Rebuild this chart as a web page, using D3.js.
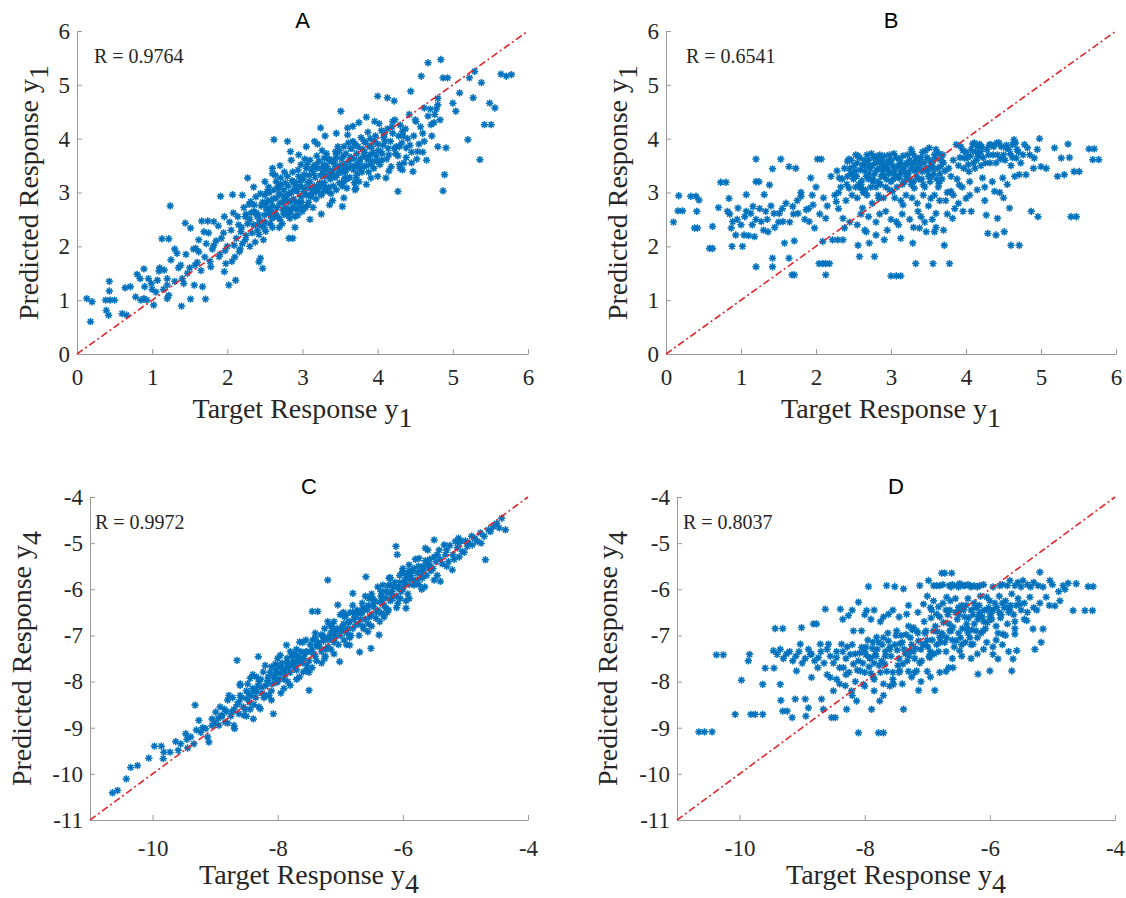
<!DOCTYPE html>
<html>

<head>
    <meta charset="utf-8" />
    <title>Target vs Predicted Response</title>
    <script src="https://d3js.org/d3.v7.min.js"></script>
    <style>
        body { margin: 0; background: #ffffff; }
        .tick text { font-family: "Liberation Serif", "DejaVu Serif", serif; fill: #262626; }
        .axis path, .axis line { stroke: #9a9a9a; }
    </style>
</head>

<body>
    <script type="text/javascript">
        // panel letters, correlation labels, axis names
        var panelTitles = ['A', 'B', 'C', 'D'];
        var rLabels = ['R = 0.9764', 'R = 0.6541', 'R = 0.9972', 'R = 0.8037'];
        var labelSub = ['1', '1', '4', '4'];

        // tick values
        var ticksY1 = [0, 1, 2, 3, 4, 5, 6];
        var ticksY4x = [-10, -8, -6, -4];
        var ticksY4y = [-11, -10, -9, -8, -7, -6, -5, -4];

        // [target, predicted] pairs
        var pointsA = [
            [0.13,1.03],[0.2,0.97],[0.18,0.6],[0.38,1.0],[0.44,1.0],[0.5,1.0],[0.43,1.35],[0.43,1.17],[0.39,0.81],[0.42,0.72],
            [0.6,0.75],[0.66,0.72],[0.64,1.23],[0.71,1.25],[0.8,1.48],[0.84,1.4],[0.78,1.06],[0.89,1.03],[0.93,1.0],[0.89,1.58],
            [1.02,0.91],[0.99,1.31],[1.07,1.37],[1.09,1.54],[1.16,1.56],[1.2,1.03],[1.22,1.09],[1.2,1.28],[1.13,2.14],[1.22,2.14],
            [1.24,2.75],[1.3,1.95],[1.33,1.87],[1.38,1.65],[1.39,0.89],[1.47,1.5],[1.42,1.31],[1.51,1.02],[1.56,1.28],[1.44,2.43],
            [1.51,2.34],[1.58,1.96],[1.62,1.9],[1.69,2.27],[1.66,2.47],[1.74,2.47],[1.82,2.46],[1.71,1.02],[1.67,1.25],[1.78,1.62],
            [1.82,2.02],[1.91,2.93],[1.89,1.81],[1.96,2.55],[1.96,1.53],[1.98,1.68],[2.02,1.28],[2.07,2.96],[2.11,1.37],[2.09,2.02],
            [2.16,1.9],[2.18,2.27],[2.27,3.27],[2.24,2.55],[2.31,2.83],[2.36,2.77],[2.42,1.71],[2.47,1.59],[2.44,1.78],[2.4,2.4],
            [2.49,2.58],[2.56,2.71],[2.62,3.98],[2.8,3.95],[2.84,3.76],[2.6,3.45],[2.67,3.08],[2.71,3.27],[2.76,2.89],[2.82,2.15],
            [2.87,2.15],[2.8,2.65],[2.89,3.2],[2.93,3.02],[2.98,3.52],[3.02,3.33],[3.07,2.77],[3.11,3.08],[3.16,3.95],[3.18,3.52],
            [3.24,4.2],[3.29,3.64],[3.31,3.08],[3.36,2.77],[3.38,3.39],[3.44,3.76],[3.51,4.51],[3.53,2.74],[3.56,3.27],[3.6,4.07],
            [3.64,3.64],[3.67,4.23],[3.71,3.08],[3.76,3.45],[3.82,3.95],[3.87,3.64],[3.91,3.27],[3.96,4.32],[4.0,4.79],[4.04,3.76],
            [4.11,3.27],[4.13,4.76],[4.2,4.32],[4.22,4.7],[4.27,3.02],[4.29,3.52],[4.33,4.14],[4.38,3.83],[4.44,4.88],[4.47,3.39],
            [4.51,4.32],[4.53,3.76],[4.58,5.16],[4.62,4.57],[4.67,5.41],[4.71,4.26],[4.76,4.45],[4.8,4.63],[4.84,5.47],[4.87,5.13],
            [4.89,3.33],[4.87,3.03],[4.91,3.83],[4.93,5.13],[5.0,4.66],[5.09,4.85],[5.04,4.51],[5.2,3.98],[5.22,5.13],[5.29,5.25],
            [5.27,4.76],[5.38,5.04],[5.36,3.61],[5.42,4.26],[5.51,4.26],[5.49,4.66],[5.56,4.57],[5.64,5.2],[5.71,5.16],[5.78,5.19],
            [2.3,2.5],[2.35,2.65],[2.4,2.3],[2.45,2.75],[2.5,2.45],[2.5,2.95],[2.55,2.6],[2.55,3.1],[2.6,2.75],[2.6,2.35],
            [2.65,2.9],[2.65,3.2],[2.7,2.5],[2.7,2.8],[2.75,3.05],[2.75,2.6],[2.8,3.3],[2.8,2.85],[2.85,2.7],[2.85,3.0],
            [2.9,3.15],[2.9,2.55],[2.95,3.3],[2.95,2.8],[3.0,3.1],[3.0,2.65],[3.05,3.45],[3.05,2.95],[3.1,3.2],[3.1,3.6],
            [3.15,3.0],[3.15,3.35],[3.2,3.1],[3.25,3.45],[3.25,2.95],[3.3,3.3],[3.35,3.6],[3.35,3.1],[3.4,3.4],[3.45,3.7],
            [3.45,3.05],[3.5,3.5],[3.55,3.85],[3.55,3.2],[3.6,3.45],[3.65,3.65],[3.7,3.9],[3.7,3.5],[3.75,3.2],[3.8,3.8],
            [3.85,3.5],[3.9,4.0],[3.9,3.7],[3.95,3.45],[4.0,3.9],[4.05,4.15],[4.05,3.6],[4.1,3.95],[4.15,3.7],[4.2,4.1],
            [4.25,3.85],[4.3,4.25],[4.35,3.55],[4.4,4.0],[4.45,3.75],[4.5,4.35],[4.55,3.9],[4.6,4.1],[4.65,3.6],[4.7,4.55],
            [4.75,4.3],[4.8,4.75],[4.8,3.85],[2.0,2.0],[2.05,2.3],[2.1,1.8],[2.15,2.4],[2.2,2.05],[2.25,2.6],[2.25,2.2],
            [2.3,2.0],[2.35,2.4],[2.4,2.55],[1.95,2.25],[1.9,1.85],[1.85,2.1],[1.8,1.95],[1.75,2.25],[1.7,1.8],[1.65,1.55],
            [1.6,1.7],[1.55,1.95],[1.5,1.6],[1.45,1.85],[1.4,1.4],[1.35,1.6],[1.3,1.35],[1.25,1.75],[1.2,1.4],[1.15,1.2],
            [1.1,1.6],[1.05,1.15],[1.0,1.2],[0.95,1.4],[0.9,1.25],[0.85,1.0],[2.2,2.95],[2.35,3.1],[2.5,3.2],[2.6,3.35],
            [2.7,3.5],[2.85,3.6],[2.95,3.7],[3.05,3.85],[3.2,3.9],[3.3,4.05],[3.45,4.1],[3.6,4.2],[3.75,4.3],[3.85,4.4],
            [2.9,2.35],[3.1,2.5],[3.25,2.6],[3.4,2.85],[3.55,2.9],[3.7,3.05],[3.85,3.15],[4.0,3.3],[4.15,3.4],[4.3,3.45],
            [4.45,3.55],[4.6,3.75],
            [2.32,2.62],[2.38,2.92],[2.43,2.48],[2.47,2.82],[2.52,2.68],[2.53,3.02],[2.57,2.42],[2.58,2.85],[2.62,3.05],[2.63,2.55],
            [2.66,2.72],[2.68,3.12],[2.72,2.95],[2.73,2.42],[2.77,3.18],[2.78,2.72],[2.82,2.98],[2.83,2.52],[2.87,3.38],[2.88,2.88],
            [2.92,3.05],[2.93,2.68],[2.97,3.22],[2.98,2.92],[3.02,3.02],[3.03,3.62],[3.07,3.18],[3.08,2.82],[3.12,3.42],[3.13,3.05],
            [3.17,3.28],[3.18,2.88],[3.22,3.58],[3.23,3.18],[3.27,3.35],[3.28,3.02],[3.32,3.72],[3.33,3.48],[3.37,3.25],[3.38,2.98],
            [3.42,3.55],[3.43,3.28],[3.47,3.85],[3.48,3.42],[3.52,3.62],[3.53,3.12],[3.57,3.38],[3.58,3.72],[3.62,3.58],[3.63,3.28],
            [3.67,3.95],[3.68,3.42],[3.72,3.72],[3.73,3.35],[3.77,3.62],[3.78,4.02],[3.82,3.48],[3.83,3.75],[3.87,4.12],[3.88,3.38],
            [3.92,3.85],[3.93,3.58],[3.97,4.05],[3.98,3.68],[4.02,4.28],[4.03,3.52],[4.07,3.88],[4.08,4.02],[4.12,3.62],[4.13,4.18],
            [4.17,3.95],[4.18,3.48],[4.22,3.82],[4.23,4.35],[4.27,3.68],[4.28,4.05],[4.32,3.92],[4.33,3.42],[4.37,4.18],[4.38,3.65],
            [4.42,4.45],[4.43,3.88],[4.48,4.05],[4.52,3.62],[4.57,4.22],[4.62,3.95],[4.67,4.42],[4.72,4.05],[4.78,4.55],[4.83,4.35],
            [2.12,2.15],[2.14,2.55],[2.17,1.95],[2.19,2.35],[2.22,2.72],[2.24,2.12],[2.27,2.42],[2.29,2.78],[2.33,2.25],[2.37,2.08],
            [2.39,2.62],[2.42,2.22],[2.46,2.38],[2.48,2.12],[2.51,2.28],[2.54,2.85],[2.59,2.52],[2.64,2.62],[2.69,2.35],[2.74,2.82],
            [2.79,2.58],[2.84,2.82],[2.89,2.72],[2.94,2.58],[2.99,2.82],[3.04,2.72],[3.09,2.95],[3.14,2.72],[3.19,3.45],[3.24,3.12],
            [3.29,3.52],[3.34,3.32],[3.39,3.58],[3.44,3.48],[3.49,3.18],[3.54,3.45],[3.59,3.08],[3.64,3.82],[3.69,3.18],[3.74,3.52],
            [1.88,2.38],[1.92,2.15],[1.97,1.92],[2.03,2.45],[2.06,1.72],[2.08,2.62],[1.72,2.05],[1.77,1.72],[1.62,2.12],[1.57,1.65],
            [2.41,2.58],[2.44,2.98],[2.49,2.35],[2.51,2.78],[2.56,3.0],[2.58,2.65],[2.61,2.88],[2.64,3.32],[2.67,2.55],[2.69,2.98],
            [2.71,3.15],[2.74,2.68],[2.76,3.38],[2.79,2.95],[2.81,3.12],[2.84,2.62],[2.86,3.22],[2.89,3.05],[2.91,2.82],[2.94,3.42],
            [2.96,3.12],[2.99,2.72],[3.01,3.25],[3.04,3.08],[3.06,3.52],[3.09,3.32],[3.11,2.92],[3.14,3.48],[3.16,3.12],[3.19,3.68],
            [3.21,3.02],[3.24,3.32],[3.26,3.78],[3.29,3.18],[3.31,3.42],[3.34,3.02],[3.36,3.62],[3.39,3.32],[3.41,3.12],[3.44,3.62],
            [3.46,3.32],[3.49,3.78],[3.51,3.38],[3.54,3.68],[3.56,3.52],[3.59,3.25],[3.61,3.92],[3.64,3.48],[3.66,3.82],[3.69,3.62],
            [3.71,3.28],[3.74,3.85],[3.76,3.55],[3.79,3.38],[3.81,3.68],[3.84,3.92],[3.86,3.62],[3.89,3.85],[3.91,3.52],[3.94,3.75],
            [3.96,3.95],[3.99,3.58],[4.01,3.78],[4.06,3.72],[4.09,4.08],[4.14,3.82],[4.19,4.22],[4.24,3.72],[4.29,3.85],[4.34,4.05]
        ];

        var pointsB = [
            [0.1,2.45],[0.17,2.94],[0.16,2.66],[0.22,2.66],[0.33,2.93],[0.4,2.93],[0.44,2.86],[0.41,2.65],[0.42,2.34],[0.38,2.34],
            [0.58,1.96],[0.62,1.96],[0.62,2.37],[0.7,2.72],[0.73,3.19],[0.8,3.19],[0.82,2.65],[0.84,2.89],[0.87,2.34],[0.89,2.46],
            [0.88,2.0],[0.96,2.71],[0.93,2.21],[1.02,2.0],[1.04,2.21],[1.07,2.96],[1.07,2.65],[1.13,2.61],[1.16,2.74],[1.18,2.18],
            [1.2,3.62],[1.2,3.2],[1.2,1.62],[1.24,3.2],[1.27,2.46],[1.31,2.96],[1.33,2.65],[1.36,2.27],[1.38,3.14],[1.42,3.44],
            [1.42,1.78],[1.42,1.62],[1.44,2.61],[1.51,2.61],[1.53,3.62],[1.56,2.46],[1.58,2.06],[1.64,3.48],[1.64,1.78],[1.68,1.47],
            [1.71,1.47],[1.73,3.45],[1.71,2.1],[1.69,2.74],[1.76,2.61],[1.8,2.93],[1.87,2.68],[1.91,2.46],[1.93,3.27],[1.96,2.77],
            [1.98,2.34],[2.02,3.62],[2.07,3.62],[2.04,1.68],[2.09,1.68],[2.13,1.47],[2.13,1.68],[2.18,1.68],[2.09,2.09],[2.13,2.52],
            [2.22,2.12],[2.27,2.83],[2.29,2.12],[2.31,3.27],[2.36,2.12],[2.36,2.52],[2.38,2.34],[2.42,3.58],[2.44,3.08],[2.49,3.33],
            [2.53,3.7],[2.56,2.02],[2.58,1.81],[2.6,3.08],[2.62,2.71],[2.64,3.52],[2.67,2.27],[2.71,2.06],[2.76,3.2],[2.78,1.81],
            [2.8,2.21],[2.8,3.67],[2.84,2.89],[2.89,3.39],[2.91,2.12],[2.93,2.65],[2.96,3.58],[3.0,1.45],[3.07,1.45],[3.13,1.45],
            [3.02,3.02],[3.07,2.46],[3.11,3.27],[3.13,2.15],[3.16,2.77],[3.2,3.52],[3.27,3.8],[3.29,2.06],[3.31,3.08],[3.33,1.68],
            [3.36,2.65],[3.38,2.34],[3.42,3.39],[3.47,2.27],[3.51,3.83],[3.53,2.89],[3.56,1.68],[3.58,2.27],[3.6,2.61],[3.64,3.17],
            [3.69,3.7],[3.71,2.02],[3.78,1.68],[3.8,3.02],[3.82,2.52],[3.87,3.89],[3.91,3.14],[3.96,2.65],[3.98,3.64],[4.0,2.89],
            [4.04,3.39],[4.07,2.65],[4.11,3.92],[4.16,3.67],[4.2,3.76],[4.22,3.27],[4.27,2.58],[4.29,2.24],[4.33,3.89],[4.38,3.02],
            [4.4,2.21],[4.42,2.52],[4.44,3.92],[4.49,3.27],[4.51,2.27],[4.53,3.83],[4.58,2.71],[4.62,3.89],[4.64,3.98],[4.6,2.02],
            [4.71,2.02],[4.67,3.64],[4.71,3.33],[4.78,3.89],[4.82,3.83],[4.8,3.33],[4.87,2.65],[4.91,3.64],[4.98,4.0],[4.96,2.55],
            [5.0,3.48],[5.07,3.45],[5.18,3.83],[5.22,3.3],[5.27,3.64],[5.31,3.33],[5.36,3.9],[5.38,3.65],[5.4,2.55],[5.47,2.55],
            [5.44,3.39],[5.51,3.39],[5.64,3.81],[5.71,3.81],[5.69,3.61],[5.77,3.61],
            [2.45,3.45],[2.5,3.25],[2.55,3.55],[2.6,3.15],[2.65,3.4],[2.7,3.6],[2.7,3.25],[2.75,3.5],[2.8,3.1],[2.85,3.45],
            [2.85,3.7],[2.9,3.3],[2.95,3.5],[3.0,3.2],[3.0,3.6],[3.05,3.35],[3.1,3.5],[3.15,3.15],[3.2,3.3],[3.25,3.6],
            [3.3,3.2],[3.35,3.45],[3.4,3.65],[3.45,3.1],[3.5,3.3],[3.55,3.55],[3.6,3.8],[3.65,3.35],[3.7,3.55],[3.75,3.0],
            [2.3,3.0],[2.35,3.25],[2.4,2.85],[2.55,2.9],[2.6,2.6],[2.75,2.8],[2.9,2.9],[3.05,2.9],[3.2,2.95],[3.35,2.8],
            [3.5,2.75],[3.65,2.85],[3.8,3.3],[3.9,3.5],[4.0,3.75],[4.1,3.55],[4.15,3.85],[4.2,3.5],[4.3,3.7],[4.4,3.55],
            [4.5,3.7],[4.6,3.5],[2.2,3.3],[2.1,2.9],[2.0,3.1],[1.9,2.7],[1.8,3.0],[1.7,2.6],[1.6,2.8],[1.5,2.45],
            [1.4,2.75],[1.3,2.3],[1.2,2.5],[1.1,2.2],[1.0,2.4],[2.3,2.7],[2.45,2.45],[2.65,2.3],[2.8,2.45],[2.95,2.3],
            [3.1,2.4],[3.25,2.5],[3.45,2.45],[3.6,2.35],[3.75,2.6],[3.9,2.8],[4.05,2.95],[4.25,3.1],[4.45,3.0],[4.65,3.3],
            [2.42,3.3],[2.47,3.6],[2.52,3.4],[2.57,3.15],[2.58,3.65],[2.62,3.5],[2.63,3.0],[2.67,3.3],[2.68,3.7],[2.72,3.45],
            [2.73,3.1],[2.77,3.65],[2.78,3.35],[2.82,3.55],[2.83,3.2],[2.87,3.3],[2.88,3.6],[2.92,3.45],[2.93,3.1],[2.97,3.35],
            [2.98,3.7],[3.02,3.5],[3.03,3.25],[3.07,3.65],[3.08,3.1],[3.12,3.35],[3.13,3.55],[3.17,3.45],[3.18,3.2],[3.22,3.7],
            [3.23,3.35],[3.27,3.15],[3.28,3.5],[3.32,3.4],[3.33,3.65],[3.37,3.25],[3.38,3.55],[3.42,3.75],[3.43,3.15],[3.47,3.45],
            [3.48,3.65],[3.52,3.2],[3.53,3.5],[3.57,3.35],[3.58,3.7],[3.62,3.45],[3.63,3.1],[3.67,3.6],[3.68,3.25],[3.72,3.4],
            [2.38,3.45],[2.33,3.1],[2.28,3.4],[2.25,2.95],[2.48,2.95],[2.53,3.1],[2.68,2.95],[2.83,2.95],[2.98,3.05],[3.13,2.85],
            [3.28,2.9],[3.43,2.95],[3.58,2.95],[3.73,2.85],[3.77,3.45],[3.83,3.6],[3.88,3.25],[3.93,3.85],[3.97,3.45],[4.02,3.65],
            [4.07,3.8],[4.12,3.45],[4.13,3.75],[4.18,3.9],[4.23,3.65],[4.28,3.8],[4.32,3.55],[4.37,3.85],[4.42,3.7],[4.47,3.85],
            [4.52,3.6],[4.57,3.8],[4.62,3.65],[4.68,3.8],[4.73,3.55],[4.85,3.7],[4.9,3.45],[4.95,3.8],[3.83,2.95],[3.95,3.1],
            [4.05,3.2],[4.15,3.05],[4.25,2.85],[4.35,3.2],[4.5,2.9],[4.55,3.15],[2.15,2.75],[2.05,2.6],[1.95,2.95],[1.85,2.5],
            [1.75,2.85],[1.65,2.45],[1.55,2.7],[1.45,2.35],[1.35,2.5],[1.25,2.7],[1.15,2.4],[1.05,2.55],[0.95,2.5],[0.85,2.6],
            [2.55,2.4],[2.7,2.55],[2.85,2.6],[3.0,2.5],[3.15,2.6],[3.3,2.35],[3.4,2.55],[3.55,2.5],[3.7,2.3],[3.85,2.7],
            [2.41,3.15],[2.44,3.62],[2.46,3.35],[2.51,3.5],[2.54,3.3],[2.56,3.68],[2.59,3.42],[2.61,3.22],[2.64,3.6],[2.66,3.05],
            [2.69,3.5],[2.71,3.35],[2.74,3.72],[2.76,3.25],[2.79,3.55],[2.81,3.42],[2.84,3.62],[2.86,3.15],[2.89,3.52],[2.91,3.68],
            [2.94,3.25],[2.96,3.42],[2.99,3.58],[3.01,3.38],[3.04,3.72],[3.06,3.45],[3.09,3.28],[3.11,3.62],[3.14,3.42],[3.16,3.68],
            [3.19,3.38],[3.21,3.55],[3.24,3.25],[3.26,3.42],[3.29,3.72],[3.31,3.55],[3.34,3.3],[3.36,3.62],[3.39,3.45],[3.41,3.25],
            [3.44,3.55],[3.46,3.78],[3.49,3.4],[3.51,3.6],[3.54,3.3],[3.56,3.45],[3.59,3.62],[3.61,3.25],[3.64,3.72],[3.66,3.48],
            [3.92,3.65],[3.96,3.78],[4.03,3.52],[4.06,3.68],[4.09,3.9],[4.14,3.6],[4.17,3.72],[4.21,3.85],[4.26,3.55],[4.31,3.88],
            [4.36,3.7],[4.41,3.92],[4.46,3.62],[4.54,3.88],[4.59,3.72],[4.66,3.92],[4.7,3.75],[4.76,3.7]
        ];

        var pointsC = [
            [-10.64,-10.41],[-10.56,-10.36],[-10.42,-10.11],[-10.35,-9.86],[-10.24,-9.82],[-10.06,-9.66],[-9.97,-9.4],[-9.86,-9.4],[-9.82,-9.53],[-9.83,-9.67],
            [-9.72,-9.53],[-9.63,-9.3],[-9.59,-9.49],[-9.44,-9.44],[-9.47,-9.13],[-9.39,-9.2],[-9.32,-8.51],[-9.34,-9.35],[-9.26,-8.84],[-9.23,-9.1],
            [-9.15,-9.02],[-9.1,-9.31],[-9.05,-8.81],[-8.99,-8.66],[-8.94,-8.95],[-8.89,-8.73],[-8.84,-8.88],[-8.78,-8.3],[-8.73,-8.66],[-8.69,-9.02],
            [-8.65,-7.54],[-8.62,-8.44],[-8.6,-8.08],[-8.54,-8.73],[-8.49,-8.37],[-8.44,-7.93],[-8.39,-8.81],[-8.34,-8.22],[-8.31,-7.46],[-8.28,-8.59],
            [-8.23,-7.79],[-8.18,-8.3],[-8.1,-7.68],[-8.07,-8.7],[-8.02,-8.01],[-7.96,-7.43],[-7.91,-7.79],[-7.86,-7.21],[-7.8,-8.08],[-7.75,-7.64],
            [-7.7,-7.43],[-7.65,-7.14],[-7.59,-7.79],[-7.54,-7.36],[-7.5,-8.19],[-7.45,-6.48],[-7.36,-6.48],[-7.38,-7.21],[-7.31,-6.99],[-7.25,-7.5],
            [-7.2,-5.8],[-7.17,-6.77],[-7.09,-7.07],[-7.04,-6.34],[-7.01,-7.57],[-6.96,-6.88],[-6.91,-6.56],[-6.85,-7.21],[-6.8,-6.09],[-6.75,-6.77],
            [-6.69,-7.36],[-6.64,-6.41],[-6.59,-5.73],[-6.56,-6.92],[-6.51,-7.28],[-6.48,-6.2],[-6.43,-6.63],[-6.38,-6.99],[-6.32,-5.91],[-6.27,-6.41],
            [-6.22,-5.76],[-6.17,-6.2],[-6.11,-5.07],[-6.09,-5.25],[-6.06,-5.98],[-6.01,-5.62],[-5.95,-6.41],[-5.9,-5.47],[-5.82,-5.91],[-5.74,-5.33],
            [-5.69,-5.76],[-5.64,-5.11],[-5.58,-5.54],[-5.5,-4.93],[-5.45,-5.25],[-5.4,-5.83],[-5.34,-5.04],[-5.27,-5.4],[-5.21,-5.58],[-5.16,-4.96],
            [-5.11,-4.89],[-5.05,-5.18],[-4.97,-5.07],[-4.89,-5.04],[-4.81,-4.96],[-4.76,-4.78],[-4.68,-5.36],[-4.63,-4.71],[-4.55,-4.64],[-4.5,-4.57],
            [-4.42,-4.46],[-4.36,-4.71],[-4.46,-4.67],
            [-9.0,-8.9],[-8.9,-8.75],[-8.8,-8.9],[-8.7,-8.6],[-8.6,-8.3],[-8.55,-8.55],[-8.5,-8.2],[-8.45,-8.45],[-8.4,-8.15],[-8.35,-8.35],
            [-8.3,-8.0],[-8.25,-8.25],[-8.2,-8.1],[-8.15,-7.9],[-8.1,-8.2],[-8.05,-7.85],[-8.0,-8.0],[-7.95,-7.7],[-7.9,-7.95],[-7.85,-7.6],
            [-7.8,-7.8],[-7.75,-7.55],[-7.7,-7.75],[-7.65,-7.5],[-7.6,-7.6],[-7.55,-7.35],[-7.5,-7.55],[-7.45,-7.3],[-7.4,-7.45],[-7.35,-7.15],
            [-7.3,-7.35],[-7.25,-7.05],[-7.2,-7.25],[-7.15,-6.95],[-7.1,-7.15],[-7.05,-6.85],[-7.0,-7.0],[-6.95,-6.75],[-6.9,-6.95],[-6.85,-6.7],
            [-6.8,-6.85],[-6.75,-6.55],[-6.7,-6.75],[-6.65,-6.5],[-6.6,-6.65],[-6.55,-6.35],[-6.5,-6.55],[-6.45,-6.25],[-6.4,-6.45],[-6.35,-6.15],
            [-6.3,-6.35],[-6.25,-6.05],[-6.2,-6.25],[-6.15,-5.95],[-6.1,-6.15],[-6.05,-5.85],[-6.0,-6.0],[-5.95,-5.75],[-5.9,-5.9],[-5.85,-5.6],
            [-5.8,-5.8],[-5.75,-5.5],[-5.7,-5.7],[-5.6,-5.45],[-5.55,-5.6],[-5.5,-5.3],[-5.4,-5.35],[-5.3,-5.15],[-5.2,-5.25],[-5.1,-5.0],
            [-5.0,-4.95],[-4.9,-4.85],
            [-8.8,-8.4],[-8.6,-8.05],[-8.4,-7.85],[-8.2,-7.65],[-8.0,-7.5],[-7.8,-7.35],[-7.6,-7.15],[-7.4,-6.95],[-7.2,-6.7],[-7.0,-6.55],
            [-6.8,-6.35],[-6.6,-6.15],[-6.4,-5.95],[-6.2,-5.75],[-6.0,-5.55],[-5.8,-5.35],[-5.6,-5.15],
            [-8.7,-8.95],[-8.5,-8.75],[-8.3,-8.55],[-8.1,-8.4],[-7.9,-8.15],[-7.7,-7.95],[-7.5,-7.8],[-7.3,-7.6],[-7.1,-7.4],[-6.9,-7.2],
            [-6.7,-7.0],[-6.5,-6.8],[-6.3,-6.6],[-6.1,-6.4],[-5.9,-6.2],[-5.7,-6.0],[-5.5,-5.8],[-5.3,-5.5],[-5.1,-5.3],
            [-8.95,-8.8],[-8.85,-8.6],[-8.75,-8.75],[-8.65,-8.5],[-8.58,-8.35],[-8.52,-8.6],[-8.48,-8.05],[-8.42,-8.3],[-8.38,-8.5],[-8.32,-8.1],
            [-8.27,-7.95],[-8.22,-8.35],[-8.17,-8.05],[-8.12,-7.8],[-8.08,-8.05],[-8.03,-7.75],[-7.98,-7.95],[-7.93,-7.6],[-7.88,-7.85],[-7.83,-7.7],
            [-7.78,-7.45],[-7.73,-7.7],[-7.68,-7.6],[-7.63,-7.35],[-7.58,-7.5],[-7.53,-7.65],[-7.48,-7.2],[-7.43,-7.4],[-7.38,-7.55],[-7.33,-7.25],
            [-7.28,-7.0],[-7.23,-7.3],[-7.18,-7.1],[-7.13,-6.85],[-7.08,-7.0],[-7.03,-7.2],[-6.98,-6.9],[-6.93,-6.6],[-6.88,-6.85],[-6.83,-7.0],
            [-6.78,-6.65],[-6.73,-6.45],[-6.68,-6.65],[-6.63,-6.85],[-6.58,-6.4],[-6.53,-6.6],[-6.47,-6.3],[-6.42,-6.5],[-6.37,-6.7],[-6.33,-6.25],
            [-6.28,-6.05],[-6.23,-6.45],[-6.18,-6.1],[-6.13,-5.85],[-6.08,-6.3],[-6.03,-6.05],[-5.97,-5.9],[-5.92,-6.1],[-5.87,-5.7],[-5.82,-5.55],
            [-5.77,-5.8],[-5.72,-5.6],[-5.67,-5.5],[-5.62,-5.7],[-5.57,-5.35],[-5.52,-5.55],[-5.47,-5.4],[-5.42,-5.15],[-5.37,-5.45],[-5.32,-5.25],
            [-5.25,-5.05],[-5.18,-5.35],[-5.13,-5.1],[-5.08,-4.95],[-5.02,-5.2],[-4.95,-5.0],[-4.85,-4.9],[-4.75,-5.0],[-4.7,-4.85],[-4.6,-4.75],
            [-9.2,-9.0],[-9.12,-9.2],[-9.05,-8.95],[-9.45,-9.25],[-9.55,-9.35],[-9.3,-9.05],[-8.92,-8.55],[-8.82,-8.65],[-8.72,-8.35],[-8.62,-8.7],
            [-8.0,-7.65],[-7.85,-7.5],[-7.7,-7.3],[-7.55,-7.1],[-7.4,-7.05],[-7.25,-6.85],[-7.1,-6.7],[-6.95,-6.5],[-6.8,-6.5],[-6.65,-6.3],
            [-6.5,-6.1],[-6.35,-6.05],[-6.2,-5.9],[-6.05,-5.7],[-5.9,-5.6],[-7.95,-8.25],[-7.65,-7.9],[-7.45,-7.7],[-7.15,-7.3],[-6.85,-7.05],
            [-6.55,-6.75],[-6.25,-6.5],[-5.95,-6.25],[-5.65,-5.95],[-5.45,-5.7],
            [-8.47,-8.25],[-8.37,-8.2],[-8.26,-8.12],[-8.16,-7.98],[-8.06,-7.92],[-7.96,-7.82],[-7.87,-7.72],[-7.77,-7.62],[-7.67,-7.48],[-7.57,-7.4],
            [-7.47,-7.35],[-7.37,-7.22],[-7.27,-7.12],[-7.17,-7.02],[-7.07,-6.92],[-6.97,-6.82],[-6.87,-6.72],[-6.77,-6.6],[-6.67,-6.52],[-6.57,-6.45],
            [-6.47,-6.38],[-6.37,-6.28],[-6.27,-6.18],[-6.17,-6.05],[-6.07,-5.95],[-5.97,-5.82],[-5.87,-5.78],[-5.77,-5.65],[-5.67,-5.58],[-5.57,-5.48],
            [-8.44,-8.6],[-8.14,-8.3],[-7.84,-8.0],[-7.54,-7.75],[-7.24,-7.45],[-6.94,-7.1],[-6.64,-6.8],[-6.34,-6.52],[-6.04,-6.2],[-5.74,-5.9],
            [-8.34,-7.9],[-8.04,-7.62],[-7.74,-7.4],[-7.44,-7.1],[-7.14,-6.78],[-6.84,-6.5],[-6.54,-6.2],[-6.24,-5.92],[-5.94,-5.68],[-5.64,-5.38]
        ];

        var pointsD = [
            [-10.65,-9.09],[-10.56,-9.09],[-10.44,-9.09],[-10.37,-7.42],[-10.26,-7.42],[-10.07,-8.71],[-9.97,-7.97],[-9.86,-7.55],[-9.84,-7.41],[-9.82,-8.71],
            [-9.75,-8.71],[-9.63,-8.71],[-9.63,-8.06],[-9.59,-7.71],[-9.45,-7.71],[-9.43,-6.85],[-9.31,-6.85],[-9.46,-7.33],[-9.4,-7.41],[-9.35,-8.06],
            [-9.34,-8.41],[-9.31,-8.64],[-9.24,-8.64],[-9.16,-8.78],[-9.11,-8.38],[-9.09,-7.77],[-9.03,-7.19],[-9.01,-6.83],[-8.95,-8.38],[-8.94,-8.75],
            [-8.9,-8.57],[-8.87,-7.41],[-8.85,-7.91],[-8.82,-6.75],[-8.77,-6.75],[-8.74,-7.48],[-8.71,-7.19],[-8.69,-8.38],[-8.66,-8.6],[-8.63,-6.43],
            [-8.58,-7.19],[-8.55,-7.91],[-8.53,-8.78],[-8.5,-8.2],[-8.47,-8.78],[-8.45,-7.48],[-8.39,-6.43],[-8.37,-7.19],[-8.34,-7.7],[-8.31,-8.09],
            [-8.29,-8.6],[-8.26,-6.57],[-8.23,-7.41],[-8.21,-8.2],[-8.18,-6.9],[-8.13,-8.42],[-8.1,-9.11],[-8.1,-6.28],[-8.07,-7.77],[-8.05,-7.26],
            [-8.02,-8.06],[-7.97,-6.46],[-7.94,-5.94],[-7.91,-7.48],[-7.89,-8.6],[-7.86,-7.91],[-7.81,-7.04],[-7.78,-9.11],[-7.76,-8.42],[-7.7,-9.11],
            [-7.68,-7.62],[-7.65,-5.92],[-7.62,-6.54],[-7.6,-7.26],[-7.54,-8.06],[-7.52,-5.94],[-7.49,-6.9],[-7.44,-7.77],[-7.38,-8.6],[-7.38,-5.99],
            [-7.33,-6.54],[-7.28,-7.33],[-7.22,-6.83],[-7.17,-7.77],[-7.14,-8.19],[-7.12,-5.92],[-7.06,-6.32],[-7.04,-7.19],[-6.98,-5.81],[-6.96,-7.48],
            [-6.9,-5.92],[-6.88,-8.19],[-6.85,-6.54],[-6.8,-7.04],[-6.77,-5.65],[-6.72,-5.65],[-6.69,-6.17],[-6.66,-7.7],[-6.64,-6.9],[-6.61,-5.65],
            [-6.59,-7.7],[-6.53,-5.92],[-6.5,-6.39],[-6.48,-7.33],[-6.43,-5.92],[-6.37,-6.75],[-6.32,-5.92],[-6.27,-7.19],[-6.21,-6.39],[-6.19,-7.84],
            [-6.16,-5.92],[-6.11,-6.9],[-6.05,-6.17],[-6.0,-7.77],[-5.95,-7.41],[-5.89,-6.39],[-5.87,-7.51],[-5.84,-5.92],[-5.79,-6.97],[-5.73,-6.39],
            [-5.68,-5.81],[-5.65,-7.77],[-5.63,-7.51],[-5.6,-6.97],[-5.57,-7.33],[-5.52,-6.32],[-5.47,-5.81],[-5.41,-6.68],[-5.36,-6.17],[-5.31,-6.86],
            [-5.28,-7.3],[-5.23,-5.92],[-5.2,-5.63],[-5.18,-7.15],[-5.15,-6.86],[-5.1,-6.17],[-5.04,-5.81],[-4.96,-6.36],[-4.88,-6.25],[-4.83,-5.92],
            [-4.75,-5.87],[-4.67,-6.46],[-4.62,-5.88],[-4.48,-6.46],[-4.43,-5.94],[-4.35,-5.94],[-4.36,-6.46],
            [-7.6,-7.3],[-7.5,-7.0],[-7.45,-7.5],[-7.4,-7.15],[-7.35,-7.4],[-7.3,-6.8],[-7.25,-7.2],[-7.2,-7.5],[-7.15,-6.95],[-7.1,-7.3],
            [-7.05,-6.7],[-7.0,-7.1],[-6.95,-7.35],[-6.9,-6.9],[-6.85,-7.2],[-6.8,-6.6],[-6.75,-7.0],[-6.7,-7.35],[-6.65,-6.75],[-6.6,-7.1],
            [-6.55,-6.5],[-6.5,-6.95],[-6.45,-7.2],[-6.4,-6.6],[-6.35,-6.95],[-6.3,-6.45],[-6.25,-6.75],[-6.2,-7.05],[-6.15,-6.5],[-6.1,-6.7],
            [-6.05,-6.45],[-6.0,-6.6],[-5.95,-6.45],[-5.9,-6.8],[-5.85,-6.5],[-5.8,-6.3],
            [-6.85,-5.92],[-6.8,-5.92],[-6.75,-5.9],[-6.65,-5.92],[-6.6,-5.9],[-6.5,-5.95],[-6.4,-5.92],[-6.35,-5.9],[-6.25,-5.92],[-6.2,-5.95],
            [-5.8,-5.9],[-5.6,-5.92],[-5.55,-5.85],[-5.4,-5.9],[-5.3,-5.85],
            [-8.0,-7.8],[-7.9,-7.82],[-7.75,-7.8],[-7.65,-7.78],[-7.55,-7.8],[-7.45,-7.8],[-7.3,-7.78],[-7.2,-7.8],[-7.0,-7.78],[-6.8,-7.8],
            [-6.7,-7.78],
            [-8.9,-7.3],[-8.8,-7.55],[-8.6,-7.3],[-8.5,-7.6],[-8.35,-7.35],[-8.25,-7.8],[-8.2,-7.2],[-8.1,-7.55],[-8.0,-7.35],[-7.95,-7.1],
            [-7.85,-7.6],[-7.8,-7.3],[-7.7,-7.05],[-7.75,-6.7],[-7.9,-6.65],[-8.05,-6.9],[-7.85,-8.2],[-7.7,-8.3],[-7.6,-8.1],[-8.2,-8.3],
            [-8.4,-8.05],[-9.2,-7.35],[-9.3,-7.5],[-9.1,-7.45],[-9.0,-7.6],
            [-5.5,-6.45],[-5.4,-6.5],[-5.7,-6.5],[-5.6,-6.7],[-5.3,-6.4],[-5.2,-6.3],[-5.75,-7.0],[-5.9,-7.1],[-6.1,-7.3],[-6.3,-7.2],
            [-7.58,-7.45],[-7.52,-7.2],[-7.47,-7.65],[-7.42,-7.0],[-7.37,-7.3],[-7.32,-7.55],[-7.27,-7.05],[-7.22,-7.35],[-7.17,-6.9],[-7.12,-7.6],
            [-7.07,-7.2],[-7.02,-6.9],[-6.97,-7.45],[-6.92,-7.1],[-6.87,-6.8],[-6.82,-7.35],[-6.77,-6.95],[-6.72,-7.15],[-6.67,-6.55],[-6.62,-6.9],
            [-6.57,-7.25],[-6.52,-6.65],[-6.47,-7.05],[-6.42,-6.45],[-6.37,-6.85],[-6.32,-7.05],[-6.27,-6.55],[-6.22,-6.9],[-6.17,-6.35],[-6.12,-6.6],
            [-6.07,-6.85],[-6.02,-6.4],[-5.97,-6.65],[-5.92,-6.3],[-5.87,-6.95],[-5.82,-6.55],[-5.77,-6.4],[-5.72,-6.75],[-5.67,-6.35],[-5.62,-6.55],
            [-8.45,-7.35],[-8.4,-7.7],[-8.3,-7.5],[-8.28,-7.25],[-8.15,-7.4],[-8.12,-7.75],[-8.03,-7.6],[-7.98,-7.25],[-7.92,-7.5],[-7.87,-7.15],
            [-7.83,-7.4],[-7.77,-7.65],[-7.72,-7.2],[-7.67,-7.45],[-7.63,-6.95],[-8.55,-7.45],[-8.65,-7.6],[-8.7,-7.35],[-8.75,-7.7],[-8.85,-7.4],
            [-8.95,-7.5],[-9.05,-7.35],[-9.15,-7.55],[-9.25,-7.4],[-9.35,-7.3],[-8.6,-7.85],[-8.45,-7.95],[-8.3,-7.85],[-8.15,-8.0],[-8.0,-8.1],
            [-7.85,-7.95],[-7.7,-8.05],[-7.55,-7.95],[-7.4,-8.05],[-7.25,-7.9],[-7.1,-8.0],[-6.95,-7.9],[-6.6,-7.5],[-6.45,-7.45],[-6.3,-7.5],
            [-6.2,-7.4],[-6.05,-7.15],[-5.95,-7.25],[-5.8,-7.2],[-5.7,-7.35],[-6.95,-6.4],[-6.9,-6.25],[-6.75,-6.3],[-6.7,-6.45],[-6.55,-6.2],
            [-6.45,-6.35],[-6.35,-6.2],[-6.25,-6.3],[-6.15,-6.15],[-6.0,-6.25],[-5.85,-6.15],[-5.75,-6.25],[-5.65,-6.1],[-5.55,-6.2],[-5.45,-6.3],
            [-7.0,-6.15],[-7.15,-6.5],[-7.3,-6.35],[-7.45,-6.6],[-7.55,-6.45],[-7.7,-6.6],[-7.85,-6.45],[-8.0,-6.55],[-8.2,-6.45],[-8.35,-6.65],
            [-6.62,-5.95],[-6.48,-5.88],[-6.3,-5.95],[-6.1,-5.9],[-5.95,-5.95],[-5.72,-5.92],[-5.5,-5.95],[-5.35,-5.95],[-5.15,-5.95],[-5.0,-5.9],
            [-4.9,-6.05],[-4.8,-6.0],[-5.05,-6.35],[-5.25,-6.45],[-5.45,-6.65],[-5.6,-6.85],
            [-7.48,-7.32],[-7.43,-7.18],[-7.39,-7.62],[-7.34,-6.98],[-7.29,-7.45],[-7.24,-6.88],[-7.19,-7.28],[-7.14,-7.12],[-7.09,-7.55],[-7.04,-6.95],
            [-6.99,-7.25],[-6.94,-6.62],[-6.89,-7.4],[-6.84,-6.92],[-6.79,-7.15],[-6.74,-6.72],[-6.69,-7.05],[-6.64,-6.45],[-6.59,-6.82],[-6.54,-7.12],
            [-6.49,-6.55],[-6.44,-6.85],[-6.39,-7.15],[-6.34,-6.62],[-6.29,-6.88],[-6.24,-6.4],[-6.19,-6.65],[-6.14,-6.95],[-6.09,-6.45],[-6.04,-6.72],
            [-7.62,-7.12],[-7.67,-7.35],[-7.73,-7.55],[-7.78,-7.15],[-7.82,-7.45],[-7.88,-7.28],[-7.93,-7.68],[-7.98,-7.42],[-8.08,-7.38],[-8.18,-7.62],
            [-6.93,-6.45],[-6.82,-6.38],[-6.63,-6.25],[-6.5,-6.48],[-6.38,-6.35],[-6.18,-6.55],[-5.98,-6.52],[-5.83,-6.62],[-5.68,-6.45],[-5.58,-6.35]
        ];

        // screen layout of the four panels
        var panels = [
            { pts: pointsA, dom: [0, 6], xt: ticksY1, yt: ticksY1, left: 77, right: 528, top: 31, bottom: 354, ylx: 28, rx: 94, xpad: 15 },
            { pts: pointsB, dom: [0, 6], xt: ticksY1, yt: ticksY1, left: 666, right: 1116, top: 31, bottom: 354, ylx: 617, rx: 686, xpad: 15 },
            { pts: pointsC, dom: [-11, -4], xt: ticksY4x, yt: ticksY4y, left: 90, right: 528, top: 497, bottom: 820, ylx: 21, rx: 95, xpad: 20 },
            { pts: pointsD, dom: [-11, -4], xt: ticksY4x, yt: ticksY4y, left: 677, right: 1115, top: 497, bottom: 820, ylx: 607, rx: 683, xpad: 20 }
        ];

        // matlab style '*' marker: plus and cross on top of each other
        var asterisk = {
            draw: function (ctx, size) {
                var r = Math.sqrt(size) / 2;
                var d = r * 0.7071;
                ctx.moveTo(-r, 0); ctx.lineTo(r, 0);
                ctx.moveTo(0, -r); ctx.lineTo(0, r);
                ctx.moveTo(-d, -d); ctx.lineTo(d, d);
                ctx.moveTo(-d, d); ctx.lineTo(d, -d);
            }
        };
        var marker = d3.symbol().type(asterisk).size(54);

        var svg = d3.select('body')
            .append('svg')
            .attr('width', 1126)
            .attr('height', 898);

        panels.forEach(function (p, i) {
            var x = d3.scaleLinear().domain(p.dom).range([p.left, p.right]);
            var y = d3.scaleLinear().domain(p.dom).range([p.bottom, p.top]);
            var g = svg.append('g');
            var fmt = function (d) { return String(d); };

            g.append('g')
                .attr('class', 'axis')
                .attr('transform', 'translate(0,' + p.bottom + ')')
                .call(d3.axisBottom(x).tickValues(p.xt).tickSizeInner(-5).tickSizeOuter(0).tickPadding(p.xpad).tickFormat(fmt))
                .selectAll('text').style('font-size', '23px');

            g.append('g')
                .attr('class', 'axis')
                .attr('transform', 'translate(' + p.left + ',0)')
                .call(d3.axisLeft(y).tickValues(p.yt).tickSizeInner(-5).tickSizeOuter(0).tickPadding(7).tickFormat(fmt))
                .selectAll('text').style('font-size', '23px');

            g.selectAll('.pt')
                .data(p.pts)
                .enter()
                .append('path')
                .attr('class', 'pt')
                .attr('transform', function (d) { return 'translate(' + x(d[0]) + ',' + y(d[1]) + ')'; })
                .attr('d', marker)
                .attr('fill', 'none')
                .attr('stroke', '#0072bd')
                .attr('stroke-width', 1.5);

            // identity line
            g.append('line')
                .attr('x1', x(p.dom[0])).attr('y1', y(p.dom[0]))
                .attr('x2', x(p.dom[1])).attr('y2', y(p.dom[1]))
                .attr('stroke', '#e3262b')
                .attr('stroke-width', 1.6)
                .attr('stroke-dasharray', '7,3,2,3');

            g.append('text')
                .attr('x', p.rx)
                .attr('y', p.top + 32)
                .style('font-family', '"Liberation Serif", serif')
                .style('font-size', '20px')
                .style('fill', '#262626')
                .text(rLabels[i]);

            g.append('text')
                .attr('x', (p.left + p.right) / 2)
                .attr('y', p.top - 3)
                .attr('text-anchor', 'middle')
                .style('font-family', '"Liberation Sans", Arial, sans-serif')
                .style('font-size', '22px')
                .style('fill', '#000')
                .text(panelTitles[i]);

            var xl = g.append('text')
                .attr('x', (p.left + p.right) / 2)
                .attr('y', p.bottom + 64)
                .attr('text-anchor', 'middle')
                .style('font-family', '"Liberation Serif", serif')
                .style('font-size', '28px')
                .style('fill', '#262626');
            xl.append('tspan').text('Target Response y');
            xl.append('tspan').attr('dy', 9).text(labelSub[i]);

            var yl = g.append('text')
                .attr('transform', 'translate(' + p.ylx + ',' + (p.top + p.bottom) / 2 + ') rotate(-90)')
                .attr('text-anchor', 'middle')
                .attr('dy', '0.35em')
                .style('font-family', '"Liberation Serif", serif')
                .style('font-size', '28px')
                .style('fill', '#262626');
            yl.append('tspan').text('Predicted Response y');
            yl.append('tspan').attr('dy', 10).text(labelSub[i]);
        });
    </script>

</body>

</html>
